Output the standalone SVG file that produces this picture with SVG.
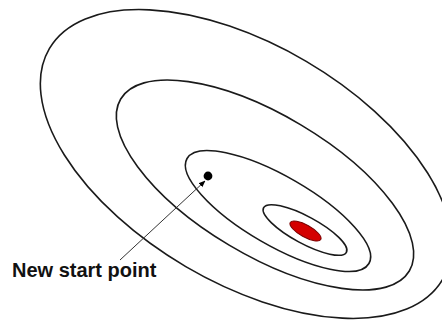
<svg xmlns="http://www.w3.org/2000/svg" width="442" height="320" viewBox="0 0 442 320">
  <style>
    .contour { fill: none; stroke: #1a1a1a; stroke-width: 1.6; }
    .label { font-family: "Liberation Sans", Arial, sans-serif; font-weight: bold; font-size: 20px; fill: #111; }
  </style>
  <defs>
    <marker id="arrow" viewBox="0 0 10 10" refX="9" refY="5" markerWidth="7" markerHeight="7" orient="auto" markerUnits="userSpaceOnUse">
      <path d="M0,1 L10,5 L0,9 z" fill="#000"/>
    </marker>
  </defs>
  <rect width="442" height="320" fill="#fff"/>
  <g id="contour-1"><ellipse class="contour" cx="246" cy="164" rx="228" ry="119" transform="rotate(30.4 246 164)"/></g>
  <g id="contour-2"><ellipse class="contour" cx="265" cy="185" rx="168" ry="70" transform="rotate(30.8 265 185)"/></g>
  <g id="contour-3"><ellipse class="contour" cx="278" cy="211" rx="105" ry="34.5" transform="rotate(30 278 211)"/></g>
  <g id="contour-4"><ellipse class="contour" cx="305" cy="230" rx="47" ry="13.5" transform="rotate(28.3 305 230)"/></g>
  <g id="minimum"><ellipse cx="305.5" cy="231" rx="17.5" ry="6" transform="rotate(29 305.5 231)" fill="#d40000" stroke="#7a0000" stroke-width="1"/></g>
  <g id="start-point"><circle cx="208" cy="176" r="4.4" fill="#000"/></g>
  <g id="connectors">
    <line x1="120" y1="260" x2="205" y2="181" stroke="#333" stroke-width="1" marker-end="url(#arrow)"/>
  </g>
  <g id="label"><text class="label" x="12" y="277">New start point</text></g>
</svg>
